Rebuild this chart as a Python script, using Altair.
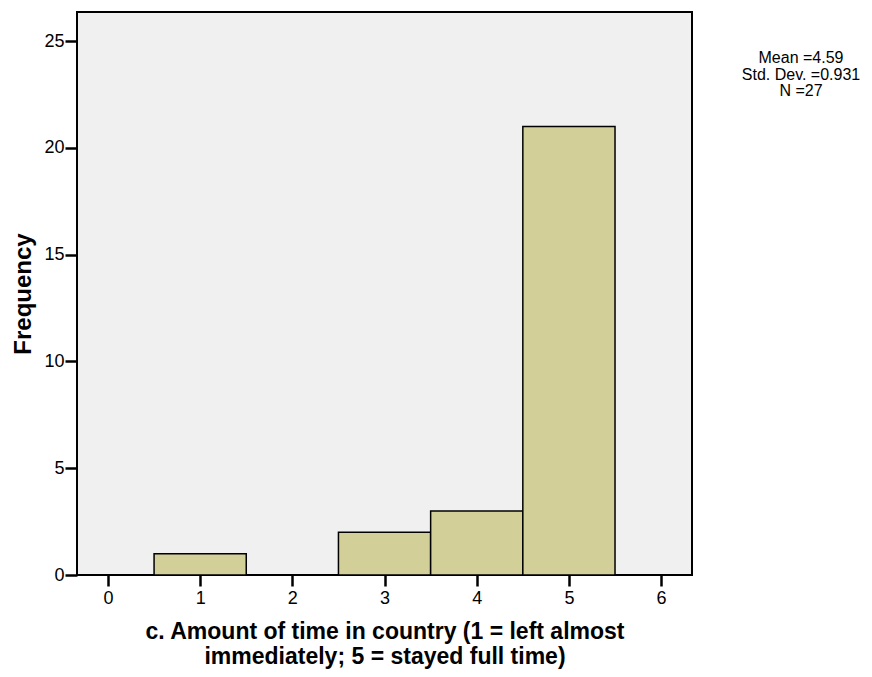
import altair as alt
import pandas as pd

values = [1, 3, 4, 5]
counts = [1, 2, 3, 21]
stats_lines = ["Mean =4.59", "Std. Dev. =0.931", "N =27"]
x_ticks = [0, 1, 2, 3, 4, 5, 6]
y_ticks = [0, 5, 10, 15, 20, 25]

df = pd.DataFrame({"value": values, "count": counts})
df["start"] = df["value"] - 0.5
df["end"] = df["value"] + 0.5

FONT = "Liberation Sans"

bars = alt.Chart(df).mark_rect(
    fill="#d3cf99", stroke="black", strokeWidth=1.5
).encode(
    x=alt.X("start:Q",
            scale=alt.Scale(domain=[-0.336, 6.335], nice=False, zero=False),
            axis=alt.Axis(values=x_ticks, title=["c. Amount of time in country (1 = left almost",
                                                  "immediately; 5 = stayed full time)"],
                          domain=False, grid=False, tickSize=11, tickWidth=2.5, tickColor="black",
                          labelFontSize=18, labelFont=FONT, labelColor="black", labelPadding=3,
                          titleFont=FONT, titleFontSize=23, titleFontWeight="bold", titleColor="black",
                          titlePadding=13, titleLineHeight=25)),
    x2="end:Q",
    y=alt.Y("count:Q",
            scale=alt.Scale(domain=[0, 26.36], nice=False),
            axis=alt.Axis(values=y_ticks, title="Frequency", domain=False, grid=False,
                          tickSize=12, tickWidth=2.5, tickColor="black",
                          labelFontSize=18, labelFont=FONT, labelColor="black", labelPadding=1,
                          titleFont=FONT, titleFontSize=24, titleFontWeight="bold", titleColor="black",
                          titlePadding=8)),
    y2=alt.datum(0),
)

stats_df = pd.DataFrame({"line": stats_lines, "i": [0, 1, 2]})
stats = alt.Chart(stats_df).mark_text(
    font=FONT, fontSize=16, color="black", align="center", baseline="middle"
).encode(
    x=alt.value(724),
    y=alt.Y("i:Q", scale=alt.Scale(domain=[0, 2], range=[46, 79]), axis=None),
    text="line:N",
)

chart = alt.layer(bars, stats).resolve_scale(y="independent").properties(
    width=615, height=563,
    autosize=alt.AutoSizeParams(type="none"),
    padding={"left": 69, "top": 4, "right": 172, "bottom": 94},
).configure_view(
    fill="#f0f0f0", stroke="black", strokeWidth=2
)

chart.save("out.html", embed_options={"renderer": "svg", "actions": False})
